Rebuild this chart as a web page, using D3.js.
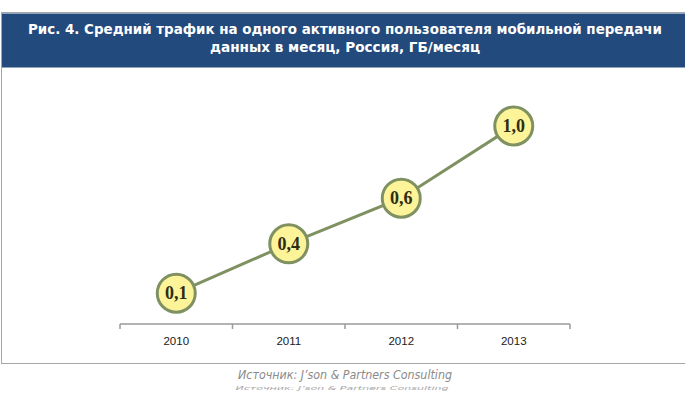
<!DOCTYPE html>
<html>
<head>
<meta charset="utf-8">
<script src="https://cdn.jsdelivr.net/npm/d3@7"></script>
<style>
  html, body { margin: 0; padding: 0; background: #fff; }
  svg { display: block; }
</style>
</head>
<body>
<svg id="chart" width="685" height="393"></svg>
<script>
const titleLines = [
  "Рис. 4. Средний трафик на одного активного пользователя мобильной передачи",
  "данных в месяц, Россия, ГБ/месяц"
];
const categories = ["2010", "2011", "2012", "2013"];
const values = [0.12, 0.38, 0.62, 1.0];
const sourceText = "Источник: J\u2019son & Partners Consulting";

const W = 685, H = 393;
const svg = d3.select("#chart");

// frame
svg.append("rect").attr("x", 1.5).attr("y", 12.5).attr("width", W).attr("height", 351)
  .attr("fill", "#fff").attr("stroke", "#a6a6a6").attr("stroke-width", 1);

// header
svg.append("rect").attr("x", 2).attr("y", 13.5).attr("width", W - 2).attr("height", 54)
  .attr("fill", "#234a7d");

const titleWidths = [634, 270];
const titleY = [33.5, 51.5];
titleLines.forEach((t, i) => {
  svg.append("text")
    .attr("x", 345).attr("y", titleY[i])
    .attr("text-anchor", "middle")
    .attr("font-family", "'DejaVu Sans Condensed', 'DejaVu Sans', sans-serif")
    .attr("font-stretch", "condensed")
    .attr("font-weight", "bold")
    .attr("font-size", 14)
    .attr("fill", "#ffffff")
    .attr("textLength", titleWidths[i])
    .attr("lengthAdjust", "spacingAndGlyphs")
    .text(t);
});

// scales
const x = d3.scaleBand().domain(categories).range([120, 570]);
const y = d3.scaleLinear().domain([0, 1.1]).range([316, 107]);
const axisY = 324;

// axis
const axisG = svg.append("g").attr("transform", `translate(0,${axisY})`);
axisG.call(d3.axisBottom(x).tickSize(0).tickPadding(13));
axisG.select(".domain").attr("stroke", "#9a9a9a").attr("stroke-width", 1.5)
  .attr("d", `M${x.range()[0]},0H${x.range()[1]}`);
axisG.selectAll(".tick text")
  .attr("font-family", "'Liberation Sans', Arial, sans-serif")
  .attr("font-size", 11.5)
  .attr("fill", "#1a1a1a");
const boundaries = categories.map(c => x(c)).concat([x.range()[1]]);
axisG.selectAll("line.bt").data(boundaries).enter().append("line")
  .attr("class", "bt")
  .attr("x1", d => d).attr("x2", d => d)
  .attr("y1", 0).attr("y2", 5)
  .attr("stroke", "#9a9a9a").attr("stroke-width", 1.5);

// line
const cx = d => x(d) + x.bandwidth() / 2;
const line = d3.line().x((d, i) => cx(categories[i])).y(d => y(d));
svg.append("path").datum(values)
  .attr("d", line)
  .attr("fill", "none")
  .attr("stroke", "#7f9160")
  .attr("stroke-width", 3);

// markers
const fmt = d3.formatLocale({decimal: ",", thousands: " ", grouping: [3], currency: ["", ""]}).format(".1f");
const pts = svg.append("g").selectAll("g").data(values).enter().append("g")
  .attr("transform", (d, i) => `translate(${cx(categories[i])},${y(d)})`);
pts.append("circle").attr("r", 19)
  .attr("fill", "#fdf49a")
  .attr("stroke", "#7f9160")
  .attr("stroke-width", 3);
pts.append("text")
  .attr("text-anchor", "middle")
  .attr("dy", "0.34em")
  .attr("font-family", "'Liberation Serif', 'Times New Roman', serif")
  .attr("font-weight", "bold")
  .attr("font-size", 18)
  .attr("fill", "#2e2e14")
  .text(d => fmt(d));

// source
svg.append("text")
  .attr("x", 345).attr("y", 379)
  .attr("text-anchor", "middle")
  .attr("font-family", "'DejaVu Sans', sans-serif")
  .attr("font-style", "italic")
  .attr("font-size", 12)
  .attr("fill", "#8a8a8a")
  .attr("textLength", 214)
  .attr("lengthAdjust", "spacingAndGlyphs")
  .text(sourceText);

// ghost (partially hidden) duplicate of source line, squashed
svg.append("text")
  .attr("transform", "translate(342,390) scale(1,0.5)")
  .attr("x", 0).attr("y", 0)
  .attr("text-anchor", "middle")
  .attr("font-family", "'DejaVu Sans', sans-serif")
  .attr("font-style", "italic")
  .attr("font-size", 12)
  .attr("fill", "#a8a8a8")
  .attr("textLength", 213)
  .attr("lengthAdjust", "spacingAndGlyphs")
  .text(sourceText);
</script>
</body>
</html>
